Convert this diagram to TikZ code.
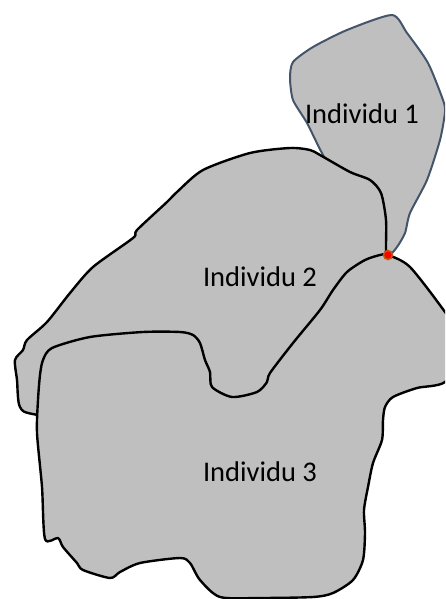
\documentclass[tikz,border=0pt]{standalone}
\usepackage{fontspec}
\setmainfont{Carlito}
\definecolor{blobfill}{HTML}{BFBFBF}
\definecolor{blueline}{HTML}{44546A}
\definecolor{dotring}{HTML}{C55A11}
\tikzset{
  blob/.style={fill=blobfill, line width=2.4pt, line join=round},
  label/.style={font=\fontsize{28.5}{33}\selectfont, text=black, inner sep=0pt}
}
\begin{document}
\begin{tikzpicture}[x=1pt,y=-1pt]
\useasboundingbox (0,0) rectangle (445,599);
\clip (0,0) rectangle (445,599);
% Individu 1
\draw[blob, draw=blueline, line width=2pt] plot[smooth cycle, tension=0.4] coordinates {
 (392,15) (407,33) (428,63) (443,100) (445,112) (440,140) (427,180) (410,213) (405,233) (397,247) (388,255)
 (375,235) (350,200) (323,155) (307,123) (293,100) (290,78) (293,62) (313,47) (347,30)};
% Individu 2
\draw[blob, draw=black] plot[smooth cycle, tension=0.45] coordinates {
 (386,250) (386,220) (381,193) (370,180) (350,172) (320,155) (310,150) (290,148) (250,153) (203,170)
 (177,192) (167,202) (137,230) (133,238) (93,267) (70,293) (47,322) (27,340) (23,350) (15,360)
 (17,380) (20,407) (38,415) (150,430) (300,380) (360,300) (388,258)};
% Individu 3
\draw[blob, draw=black] plot[smooth cycle, tension=0.45] coordinates {
 (43,360) (52,348) (90,337) (143,332) (180,332) (193,335) (200,343) (205,360) (210,372) (212,387)
 (232,397) (257,392) (267,382) (270,373) (293,343) (320,310) (333,290) (347,272) (365,260) (380,255)
 (388,255) (410,267) (445,312) (470,350) (445,382) (417,388) (393,397) (385,407) (383,420) (382,440)
 (373,463) (368,487) (364,510) (365,533) (363,560) (353,580) (333,593) (313,597) (260,598) (220,597)
 (200,580) (190,563) (180,558) (140,563) (120,572) (110,578) (83,570) (77,563) (63,547) (58,538)
 (45,539) (42,487) (37,433) (38,400) (40,375)};
% contact point
\node[circle, fill=red, draw=dotring, line width=1.5pt, minimum size=9pt, inner sep=0pt] (contact) at (388,255) {};
% labels
\node[label] (l1) at (362,114) {Individu 1};
\node[label] (l2) at (260,277) {Individu 2};
\node[label] (l3) at (260,472) {Individu 3};
\end{tikzpicture}
\end{document}
